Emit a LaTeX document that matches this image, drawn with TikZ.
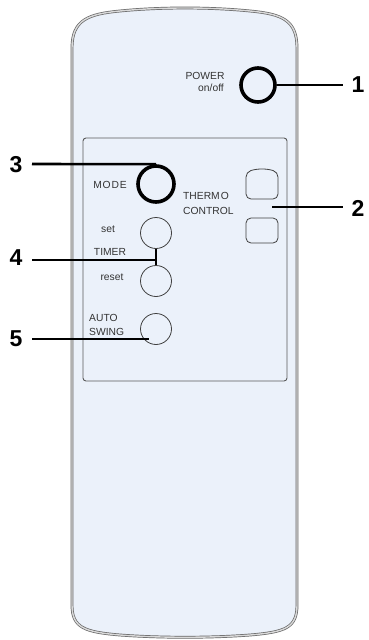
\documentclass[tikz,border=0pt]{standalone}
\usepackage{fontspec}
\setmainfont{Liberation Sans}
\definecolor{bodyfill}{RGB}{235,241,250}
\begin{document}
\begin{tikzpicture}[x=1pt,y=-1pt,
  lbl/.style={inner sep=0pt,font=\fontsize{10.3}{11}\selectfont,text=black!80},
  num/.style={inner sep=0pt,font=\fontsize{23}{24}\selectfont\bfseries},
  thin button/.style={circle,draw=black!75,line width=0.8pt,minimum size=31pt,inner sep=0pt},
  thick button/.style={circle,draw=black,line width=3.6pt,minimum size=34pt,inner sep=0pt},
  leader/.style={line width=2.6pt,black}]
\useasboundingbox (0,0) rectangle (369,640);
\fill[white] (0,0) rectangle (369,640);
% body of the remote
\draw[draw=black!60,line width=0.7pt,double=white!85!black,double distance=1.4pt,fill=bodyfill]
  (72,605) -- (72,48) .. controls (72,20) and (88,14) .. (120,11)
  .. controls (160,7) and (210,7) .. (250,11)
  .. controls (282,14) and (297,20) .. (297,48) -- (297,605)
  .. controls (297,628) and (285,632) .. (250,635)
  .. controls (210,638) and (160,638) .. (120,635)
  .. controls (85,632) and (72,628) .. (72,605) -- cycle;
% panel
\draw[draw=black!65,line width=0.9pt,rounded corners=3pt] (83,138) rectangle (287,381);
% buttons
\node[thick button] (power) at (258,85) {};
\node[thick button,minimum size=36pt] (mode) at (156,184) {};
\node[thin button] (setb) at (156,233) {};
\node[thin button] (resetb) at (156,281) {};
\node[thin button] (swing) at (156,329) {};
\draw[draw=black!75,line width=0.8pt,rounded corners=5pt]
  (246,199) -- (246,172) -- (256,169) -- (268,169) -- (278,172) -- (278,199) -- cycle;
\draw[draw=black!75,line width=0.8pt,rounded corners=5pt]
  (246,218) -- (278,218) -- (278,243) -- (246,243) -- cycle;
\node[inner sep=0pt,minimum width=32pt,minimum height=30pt] (thup) at (262,184) {};
\node[inner sep=0pt,minimum width=32pt,minimum height=25pt] (thdn) at (262,230.5) {};
% labels on the remote
\node[lbl] (powerl) at (205,76) {POWER};
\node[lbl,anchor=east] (onoffl) at (224,88) {on/off};
\node[lbl] (model) at (110,185) {M\kern0.8pt O\kern0.8pt D\kern0.8pt E};
\node[lbl,anchor=west] (thermol) at (183,196) {THERM\kern1pt O};
\node[lbl,anchor=west] (controll) at (183,211) {CONTROL};
\node[lbl] (setl) at (108,229) {set};
\node[lbl] (timerl) at (110,252) {TIMER};
\node[lbl] (resetl) at (112,277) {reset};
\node[lbl,anchor=west] (autol) at (89,318) {AUTO};
\node[lbl,anchor=west] (swingl) at (89,332) {SWING};
% numbers
\node[num] (n1) at (358,85) {1};
\node[num] (n2) at (358,208) {2};
\node[num] (n3) at (16,165) {3};
\node[num] (n4) at (16,258) {4};
\node[num] (n5) at (16,339) {5};
% leaders
\coordinate (e1) at (343,85);
\coordinate (e2) at (343,207);
\coordinate (c2) at (272,207);
\coordinate (s3) at (32,164);
\coordinate (s4) at (32,260);
\coordinate (c4) at (157,260);
\coordinate (s5) at (32,339);
\coordinate (c5) at (149,339);
\draw[leader] (power.east) -- (e1);
\draw[leader] (c2) -- (e2);
\draw[leader] (s3) -- (mode.north);
\draw[leader] (s4) -- (c4);
\draw[line width=1.2pt] (setb.south) -- (resetb.north);
\draw[leader] (s5) -- (c5);
\end{tikzpicture}
\end{document}
